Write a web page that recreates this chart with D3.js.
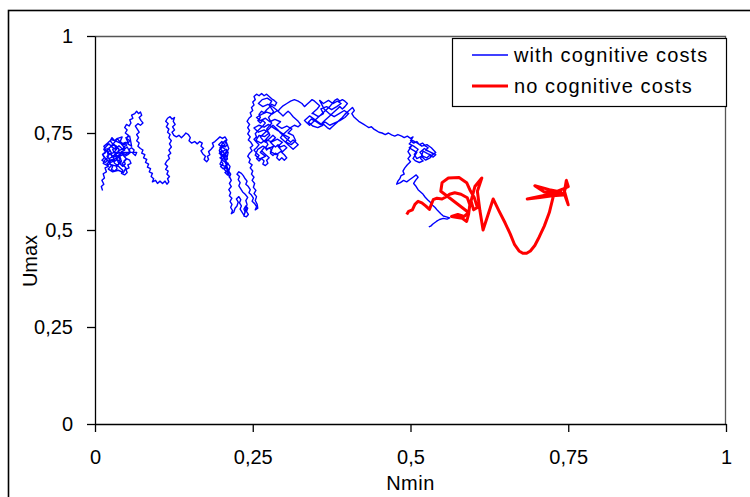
<!DOCTYPE html>
<html>
<head>
<meta charset="utf-8">
<script src="https://cdn.jsdelivr.net/npm/d3@7"></script>
<style>
  body { margin: 0; background: #fff; }
  svg text { font-family: "Liberation Sans", Arial, sans-serif; fill: #000; }
</style>
</head>
<body>
<svg id="chart" width="750" height="497"></svg>
<script>
// tick values (labels use a decimal comma)
const xTicks = [0, 0.25, 0.5, 0.75, 1];
const yTicks = [0, 0.25, 0.5, 0.75, 1];
const seriesNames = ['with cognitive costs', 'no cognitive costs'];

// with cognitive costs: [Nmin, Umax]
const withCosts = [
  // left blob
  [0.012,0.602],[0.010,0.612],[0.014,0.618],[0.011,0.628],[0.015,0.634],[0.013,0.645],[0.018,0.650],
  [0.016,0.660],[0.021,0.664],[0.019,0.672],[0.024,0.676],[0.022,0.684],[0.027,0.688],[0.025,0.696],
  [0.030,0.700],[0.028,0.708],[0.033,0.712],[0.031,0.720],[0.026,0.716],[0.022,0.722],[0.018,0.716],
  [0.014,0.708],[0.017,0.700],[0.012,0.694],[0.015,0.686],[0.011,0.680],[0.016,0.674],[0.020,0.680],
  [0.024,0.670],[0.028,0.664],[0.026,0.656],[0.031,0.652],[0.035,0.658],[0.033,0.666],[0.038,0.670],
  [0.036,0.678],[0.041,0.682],[0.039,0.690],[0.044,0.694],[0.042,0.702],[0.047,0.706],[0.045,0.714],
  [0.050,0.718],[0.048,0.726],[0.043,0.722],[0.039,0.728],[0.035,0.736],[0.031,0.730],[0.027,0.738],
  [0.024,0.730],[0.028,0.722],[0.034,0.716],[0.038,0.708],[0.036,0.700],[0.032,0.694],[0.034,0.686],
  [0.029,0.680],[0.031,0.672],[0.036,0.666],[0.040,0.660],[0.044,0.654],[0.042,0.646],[0.047,0.642],
  [0.051,0.648],[0.049,0.656],[0.054,0.660],[0.052,0.668],[0.057,0.672],[0.055,0.680],[0.050,0.684],
  [0.046,0.678],[0.048,0.670],[0.044,0.664],[0.040,0.670],[0.042,0.678],[0.038,0.686],[0.034,0.692],
  [0.030,0.688],[0.026,0.694],[0.021,0.698],[0.023,0.706],[0.019,0.710],[0.021,0.690],[0.018,0.682],
  [0.022,0.676],[0.026,0.680],[0.030,0.676],[0.034,0.680],[0.038,0.694],[0.043,0.698],[0.047,0.690],
  [0.052,0.694],[0.056,0.700],[0.054,0.708],[0.058,0.712],[0.062,0.706],[0.060,0.698],[0.064,0.692],
  [0.066,0.700],
  [0.030,0.700],[0.036,0.712],[0.029,0.719],[0.022,0.711],[0.026,0.698],[0.019,0.690],[0.024,0.680],
  [0.033,0.684],[0.040,0.676],[0.035,0.664],[0.027,0.668],[0.021,0.657],[0.028,0.650],[0.037,0.654],
  [0.045,0.648],[0.049,0.660],[0.043,0.671],[0.050,0.683],[0.044,0.694],[0.037,0.690],[0.031,0.696],
  [0.039,0.705],[0.047,0.712],[0.041,0.723],[0.033,0.729],[0.026,0.733],[0.020,0.724],[0.014,0.716],
  [0.018,0.703],[0.012,0.695],[0.017,0.684],[0.013,0.672],[0.020,0.666],[0.025,0.674],[0.031,0.679],
  [0.028,0.690],[0.034,0.697],[0.042,0.700],[0.048,0.695],[0.055,0.702],[0.051,0.714],[0.045,0.706],
  [0.038,0.717],[0.032,0.708],[0.025,0.716],[0.030,0.724],[0.036,0.736],[0.043,0.740],[0.040,0.728],
  [0.046,0.720],[0.052,0.727],[0.049,0.738],[0.055,0.742],
  [0.058,0.716],[0.052,0.722],[0.055,0.730],[0.050,0.736],[0.053,0.744],[0.048,0.750],
  // first hump
  [0.051,0.758],[0.047,0.764],[0.050,0.772],[0.054,0.768],[0.057,0.776],[0.055,0.784],[0.060,0.788],
  [0.058,0.796],[0.063,0.800],[0.066,0.806],[0.069,0.800],[0.072,0.804],[0.074,0.796],[0.070,0.790],
  [0.073,0.782],[0.076,0.776],[0.072,0.770],[0.068,0.774],[0.064,0.768],[0.067,0.760],[0.070,0.752],
  [0.066,0.746],[0.069,0.738],[0.066,0.730],[0.070,0.724],[0.068,0.716],[0.072,0.710],[0.076,0.706],
  [0.074,0.698],[0.079,0.694],[0.077,0.686],[0.082,0.682],[0.080,0.674],[0.085,0.670],[0.083,0.662],
  [0.088,0.658],[0.086,0.650],[0.091,0.646],[0.089,0.638],[0.093,0.632],[0.091,0.624],[0.096,0.628],
  [0.099,0.620],[0.103,0.626],[0.107,0.620],[0.111,0.626],[0.114,0.618],[0.117,0.624],[0.115,0.632],
  [0.118,0.638],[0.114,0.644],[0.116,0.652],[0.112,0.656],[0.115,0.664],[0.111,0.670],[0.114,0.678],
  [0.118,0.684],[0.116,0.692],[0.120,0.698],[0.117,0.706],[0.121,0.714],[0.118,0.722],[0.121,0.730],
  [0.117,0.738],[0.119,0.746],[0.115,0.752],[0.117,0.760],[0.113,0.766],[0.116,0.774],[0.112,0.780],
  [0.115,0.788],[0.119,0.792],[0.122,0.786],[0.126,0.790],[0.124,0.780],[0.127,0.772],[0.123,0.766],
  [0.126,0.758],[0.122,0.752],[0.125,0.744],[0.129,0.740],[0.133,0.744],[0.137,0.738],[0.141,0.744],
  [0.144,0.750],[0.148,0.746],[0.151,0.738],[0.149,0.730],[0.153,0.724],[0.158,0.728],[0.162,0.722],
  [0.166,0.728],[0.170,0.724],[0.168,0.716],[0.172,0.710],[0.168,0.704],[0.171,0.696],[0.175,0.690],
  [0.173,0.682],[0.177,0.676],[0.180,0.682],[0.178,0.690],[0.182,0.694],[0.180,0.702],[0.184,0.708],
  [0.188,0.716],[0.186,0.724],
  // blob near 0.2
  [0.190,0.728],[0.194,0.734],[0.198,0.740],[0.202,0.736],[0.206,0.740],[0.209,0.732],[0.206,0.726],
  [0.210,0.720],[0.206,0.714],[0.202,0.718],[0.198,0.712],[0.201,0.704],[0.197,0.698],[0.201,0.692],
  [0.205,0.696],[0.208,0.690],[0.204,0.684],[0.200,0.678],[0.203,0.670],[0.199,0.664],[0.203,0.658],
  [0.207,0.662],[0.210,0.654],[0.206,0.648],[0.210,0.642],[0.213,0.648],[0.211,0.656],[0.208,0.668],
  [0.206,0.676],[0.209,0.684],[0.211,0.700],[0.208,0.708],[0.204,0.704],[0.200,0.698],[0.203,0.690],
  [0.206,0.680],[0.210,0.672],[0.214,0.664],[0.212,0.652],[0.215,0.644],[0.213,0.636],
  [0.204,0.700],[0.199,0.709],[0.206,0.719],[0.201,0.728],[0.196,0.720],[0.203,0.712],[0.209,0.705],
  [0.204,0.692],[0.198,0.686],[0.205,0.676],[0.210,0.683],[0.207,0.695],[0.212,0.710],[0.207,0.731],
  [0.202,0.724],[0.197,0.705],[0.202,0.682],[0.198,0.670],[0.206,0.664],[0.211,0.672],[0.205,0.656],
  [0.210,0.648],[0.216,0.628],
  // dip
  [0.213,0.620],[0.216,0.612],[0.212,0.604],[0.215,0.596],[0.213,0.588],[0.217,0.582],[0.214,0.574],
  [0.217,0.566],[0.215,0.558],[0.218,0.550],[0.216,0.542],[0.220,0.546],[0.222,0.556],[0.225,0.562],
  [0.227,0.572],[0.224,0.580],[0.228,0.586],[0.231,0.578],[0.229,0.570],[0.232,0.562],[0.230,0.554],
  [0.233,0.546],[0.236,0.538],[0.238,0.546],[0.236,0.554],[0.239,0.562],[0.242,0.556],[0.240,0.548],
  [0.243,0.540],[0.240,0.534],[0.236,0.536],[0.241,0.566],[0.239,0.576],[0.242,0.584],[0.238,0.592],
  [0.234,0.598],[0.231,0.606],[0.228,0.614],[0.230,0.622],[0.227,0.630],[0.229,0.638],[0.225,0.644],
  [0.228,0.650],[0.232,0.646],[0.235,0.640],[0.238,0.632],[0.241,0.626],[0.239,0.618],[0.243,0.612],
  [0.246,0.604],[0.244,0.596],[0.248,0.590],[0.251,0.582],[0.249,0.574],[0.253,0.568],[0.256,0.560],
  [0.254,0.552],[0.258,0.556],[0.257,0.566],[0.254,0.576],[0.256,0.586],[0.252,0.594],[0.255,0.602],
  [0.251,0.610],[0.253,0.620],[0.249,0.628],[0.252,0.636],[0.248,0.644],[0.250,0.652],[0.246,0.660],
  [0.249,0.668],[0.244,0.674],[0.246,0.682],[0.242,0.690],[0.245,0.698],[0.249,0.704],
  // main blob and peak
  [0.246,0.712],[0.250,0.718],[0.247,0.726],[0.243,0.732],[0.246,0.740],[0.242,0.748],[0.245,0.756],
  [0.242,0.764],[0.245,0.772],[0.241,0.780],[0.244,0.788],[0.248,0.794],[0.246,0.802],[0.250,0.808],
  [0.248,0.816],[0.252,0.822],[0.250,0.830],[0.254,0.836],[0.252,0.844],[0.256,0.850],[0.260,0.846],
  [0.264,0.852],[0.268,0.846],[0.272,0.850],[0.276,0.844],[0.280,0.838],[0.284,0.834],[0.288,0.828],
  [0.285,0.820],[0.280,0.824],[0.276,0.816],[0.272,0.810],[0.268,0.802],[0.264,0.806],[0.260,0.798],
  [0.262,0.790],[0.258,0.782],[0.262,0.776],[0.266,0.782],[0.270,0.776],[0.266,0.768],[0.262,0.762],
  [0.258,0.756],[0.254,0.748],[0.256,0.740],[0.252,0.734],[0.256,0.726],[0.260,0.720],[0.256,0.712],
  [0.252,0.706],[0.256,0.698],[0.260,0.692],[0.256,0.684],[0.260,0.678],[0.264,0.684],[0.268,0.678],
  [0.266,0.670],[0.270,0.666],[0.274,0.672],[0.272,0.680],[0.276,0.686],[0.272,0.692],[0.268,0.698],
  [0.264,0.704],[0.268,0.712],
  [0.262,0.700],[0.270,0.690],[0.261,0.683],[0.254,0.693],[0.258,0.708],[0.266,0.716],[0.274,0.709],
  [0.283,0.716],[0.278,0.702],[0.287,0.694],[0.296,0.704],[0.290,0.716],[0.297,0.726],[0.289,0.734],
  [0.280,0.727],[0.271,0.733],[0.263,0.724],[0.255,0.731],[0.260,0.744],[0.269,0.741],[0.276,0.750],
  [0.268,0.758],[0.259,0.752],[0.252,0.763],[0.260,0.770],[0.268,0.765],[0.275,0.772],[0.284,0.762],
  [0.292,0.754],[0.300,0.745],[0.308,0.738],[0.302,0.727],[0.311,0.720],[0.318,0.730],[0.314,0.744],
  [0.306,0.750],[0.312,0.760],[0.304,0.768],[0.296,0.762],[0.288,0.770],[0.294,0.779],[0.285,0.785],
  [0.277,0.779],[0.270,0.788],[0.262,0.782],[0.256,0.790],[0.264,0.798],[0.272,0.804],[0.281,0.799],
  [0.289,0.808],[0.282,0.817],[0.274,0.824],[0.266,0.818],[0.259,0.826],[0.265,0.836],[0.273,0.840],
  [0.280,0.832],[0.276,0.822],[0.283,0.805],[0.275,0.790],[0.280,0.775],[0.272,0.760],[0.277,0.745],
  [0.270,0.732],[0.274,0.720],[0.270,0.712],
  [0.272,0.706],[0.276,0.712],[0.280,0.706],[0.278,0.698],[0.282,0.692],
  [0.286,0.698],[0.290,0.694],[0.288,0.686],[0.292,0.680],[0.296,0.686],[0.300,0.680],[0.304,0.686],
  [0.300,0.694],[0.296,0.700],[0.300,0.706],[0.304,0.712],[0.300,0.718],[0.294,0.714],[0.290,0.720],
  [0.286,0.714],[0.282,0.720],[0.278,0.726],[0.282,0.732],[0.286,0.738],[0.282,0.744],[0.278,0.738],
  [0.274,0.732],[0.270,0.726],[0.266,0.732],[0.262,0.740],[0.266,0.746],[0.270,0.752],[0.274,0.758],
  [0.278,0.764],[0.282,0.770],[0.286,0.764],[0.290,0.758],[0.294,0.750],[0.298,0.744],[0.302,0.738],
  [0.306,0.732],[0.310,0.726],[0.314,0.732],[0.318,0.726],[0.322,0.720],[0.318,0.714],[0.314,0.708],
  [0.310,0.714],[0.306,0.720],[0.302,0.726],[0.298,0.732],[0.294,0.738],[0.298,0.746],[0.302,0.752],
  [0.306,0.758],[0.310,0.764],[0.316,0.770],[0.322,0.766],[0.326,0.772],[0.322,0.780],[0.318,0.786],
  [0.314,0.792],[0.310,0.800],[0.306,0.806],[0.302,0.800],[0.298,0.794],[0.294,0.800],[0.290,0.806],
  [0.294,0.814],[0.298,0.820],[0.304,0.826],[0.310,0.832],[0.316,0.836],[0.322,0.832],[0.328,0.826],
  [0.332,0.818],[0.336,0.824],[0.340,0.830],[0.344,0.836],[0.348,0.832],[0.352,0.826],[0.356,0.820],
  [0.352,0.812],[0.348,0.806],[0.344,0.800],
  [0.346,0.800],[0.354,0.792],[0.362,0.800],[0.358,0.812],[0.367,0.818],[0.375,0.810],[0.383,0.818],
  [0.390,0.826],[0.384,0.832],[0.377,0.826],[0.370,0.834],[0.362,0.826],[0.356,0.834],[0.363,0.812],
  [0.371,0.800],[0.379,0.792],[0.387,0.800],[0.395,0.808],[0.402,0.800],[0.396,0.790],[0.388,0.782],
  [0.380,0.776],[0.372,0.770],[0.365,0.778],[0.357,0.772],[0.350,0.780],[0.343,0.786],[0.338,0.778],
  [0.345,0.768],[0.353,0.764],[0.361,0.770],
  [0.340,0.794],[0.336,0.788],[0.332,0.782],[0.336,0.776],
  [0.340,0.770],[0.344,0.776],[0.348,0.782],[0.352,0.788],[0.356,0.794],[0.360,0.800],[0.364,0.806],
  [0.368,0.812],[0.372,0.818],[0.376,0.826],[0.380,0.834],[0.384,0.838],[0.388,0.832],[0.392,0.836],
  [0.396,0.832],[0.400,0.826],[0.396,0.818],[0.392,0.812],[0.388,0.818],[0.384,0.812],[0.380,0.806],
  [0.376,0.800],[0.372,0.794],[0.368,0.788],[0.364,0.782],[0.360,0.776],[0.364,0.770],[0.368,0.764],
  [0.372,0.760],[0.376,0.766],[0.380,0.772],[0.384,0.778],[0.388,0.784],[0.392,0.790],[0.396,0.798],
  [0.400,0.804],[0.404,0.810],[0.408,0.816],[0.411,0.808],[0.407,0.800],[0.410,0.792],[0.414,0.786],
  // drift to the right
  [0.418,0.780],[0.422,0.776],[0.426,0.772],[0.430,0.768],[0.434,0.764],[0.438,0.766],[0.442,0.760],
  [0.446,0.756],[0.450,0.752],[0.455,0.750],[0.460,0.746],[0.465,0.750],[0.470,0.745],[0.475,0.742],
  [0.480,0.746],[0.486,0.742],[0.490,0.738],[0.495,0.742],[0.500,0.736],[0.504,0.740],[0.500,0.730],
  [0.505,0.724],[0.510,0.728],[0.514,0.720],[0.519,0.724],[0.524,0.716],[0.528,0.712],[0.524,0.706],
  [0.530,0.702],[0.535,0.698],[0.540,0.694],[0.536,0.688],[0.530,0.692],[0.526,0.686],[0.520,0.690],
  [0.515,0.700],[0.522,0.710],[0.529,0.703],[0.536,0.696],[0.531,0.686],[0.524,0.680],[0.517,0.690],
  [0.510,0.684],[0.506,0.695],[0.512,0.708],[0.505,0.716],[0.498,0.722],[0.503,0.731],[0.511,0.724],
  [0.518,0.716],[0.526,0.720],[0.533,0.712],[0.540,0.700],[0.534,0.692],[0.527,0.697],[0.520,0.703],
  [0.516,0.684],[0.520,0.678],[0.514,0.674],[0.508,0.678],[0.504,0.684],[0.510,0.700],[0.504,0.706],
  [0.498,0.712],[0.502,0.718],[0.496,0.702],[0.500,0.692],[0.496,0.684],[0.500,0.676],[0.495,0.668],
  [0.491,0.660],[0.488,0.652],[0.490,0.644],[0.485,0.640],[0.483,0.632],[0.480,0.626],[0.478,0.618],
  [0.484,0.622],[0.489,0.628],[0.494,0.624],[0.499,0.630],[0.504,0.636],[0.509,0.642],[0.512,0.636],
  [0.508,0.628],[0.505,0.620],[0.509,0.612],[0.512,0.604],[0.516,0.598],[0.520,0.592],[0.523,0.585],
  [0.527,0.578],[0.531,0.572],[0.535,0.564],[0.539,0.558],[0.543,0.550],[0.548,0.542],[0.552,0.536],
  [0.557,0.534],[0.562,0.531],[0.558,0.528],[0.552,0.530],[0.546,0.527],[0.541,0.522],[0.536,0.516],
  [0.532,0.510],[0.529,0.508]
];

// no cognitive costs: [Nmin, Umax]
const noCosts = [
  [0.494,0.540],[0.497,0.548],[0.503,0.552],[0.507,0.566],[0.512,0.574],[0.518,0.570],
  [0.524,0.562],[0.530,0.553],[0.533,0.566],[0.536,0.578],[0.542,0.582],[0.550,0.580],
  [0.556,0.585],[0.562,0.592],[0.570,0.596],[0.580,0.592],[0.590,0.583],[0.594,0.565],
  [0.592,0.540],[0.589,0.522],[0.582,0.530],[0.572,0.533],[0.565,0.535],[0.575,0.540],
  [0.585,0.535],[0.592,0.545],[0.560,0.585],[0.548,0.600],[0.550,0.622],[0.560,0.634],
  [0.577,0.635],[0.589,0.622],[0.594,0.604],[0.601,0.584],[0.606,0.558],[0.600,0.552],
  [0.596,0.575],[0.602,0.612],[0.613,0.634],[0.606,0.600],[0.610,0.550],[0.615,0.500],
  [0.623,0.540],[0.631,0.580],[0.640,0.550],[0.650,0.518],[0.658,0.490],[0.665,0.462],
  [0.672,0.446],[0.678,0.440],[0.684,0.440],[0.690,0.446],[0.697,0.460],[0.704,0.482],
  [0.712,0.510],[0.720,0.545],[0.726,0.585],[0.733,0.600],[0.742,0.606],[0.750,0.612],
  [0.747,0.628],[0.744,0.600],[0.750,0.565],[0.744,0.592],[0.730,0.600],[0.712,0.598],
  [0.697,0.614],[0.720,0.604],[0.738,0.598],[0.685,0.580],[0.705,0.584],[0.725,0.588],
  [0.742,0.590],[0.748,0.620],[0.744,0.604]
];

const svg = d3.select('#chart');
const margin = { left: 95, top: 36, right: 24, bottom: 73 };
const width = +svg.attr('width');
const height = +svg.attr('height');
const innerWidth = width - margin.left - margin.right;
const innerHeight = height - margin.top - margin.bottom;
const fmt = d => String(d).replace('.', ',');

// outer chart frame (runs off the right and bottom edge)
svg.append('rect')
  .attr('x', 8.5).attr('y', 10.5)
  .attr('width', 800).attr('height', 600)
  .attr('fill', 'none')
  .attr('stroke', '#000')
  .attr('stroke-width', 1.6);

const g = svg.append('g')
  .attr('transform', `translate(${margin.left},${margin.top})`);

const xScale = d3.scaleLinear().domain([0, 1]).range([0, innerWidth]);
const yScale = d3.scaleLinear().domain([0, 1]).range([innerHeight, 0]);

// plot area border (top / right)
g.append('path')
  .attr('d', `M0,0.5H${innerWidth - 0.5}V${innerHeight}`)
  .attr('fill', 'none')
  .attr('stroke', '#555')
  .attr('stroke-width', 1.3);

const xAxis = d3.axisBottom(xScale)
  .tickValues(xTicks)
  .tickFormat(fmt)
  .tickSizeInner(8).tickSizeOuter(0)
  .tickPadding(18);

const yAxis = d3.axisLeft(yScale)
  .tickValues(yTicks)
  .tickFormat(fmt)
  .tickSizeInner(8).tickSizeOuter(0)
  .tickPadding(14);

const xAxisG = g.append('g')
  .attr('transform', `translate(0,${innerHeight})`)
  .call(xAxis);
const yAxisG = g.append('g').call(yAxis);

[xAxisG, yAxisG].forEach(a => {
  a.selectAll('.domain').attr('stroke', '#000').attr('stroke-width', 1.3);
  a.selectAll('.tick line').attr('stroke', '#000').attr('stroke-width', 1.3);
  a.selectAll('.tick text')
    .attr('font-size', 20)
    .attr('font-family', '"Liberation Sans", Arial, sans-serif')
    .attr('fill', '#000');
});

// axis titles
g.append('text')
  .attr('x', innerWidth / 2)
  .attr('y', innerHeight + 66)
  .attr('text-anchor', 'middle')
  .attr('font-size', 20)
  .attr('letter-spacing', 0.5)
  .text('Nmin');

g.append('text')
  .attr('transform', 'rotate(-90)')
  .attr('x', -innerHeight / 2 - 31)
  .attr('y', -58)
  .attr('text-anchor', 'middle')
  .attr('font-size', 20)
  .text('Umax');

// series
const line = d3.line()
  .x(d => xScale(d[0]))
  .y(d => yScale(d[1]));

g.append('path')
  .datum(withCosts)
  .attr('d', line)
  .attr('fill', 'none')
  .attr('stroke', '#0000ff')
  .attr('stroke-width', 1.4)
  .attr('stroke-linejoin', 'round');

g.append('path')
  .datum(noCosts)
  .attr('d', line)
  .attr('fill', 'none')
  .attr('stroke', '#ff0000')
  .attr('stroke-width', 3)
  .attr('stroke-linejoin', 'round');

// legend
const legend = g.append('g')
  .attr('transform', `translate(${357.5},${2.5})`);

legend.append('rect')
  .attr('width', 274).attr('height', 68)
  .attr('fill', '#fff')
  .attr('stroke', '#000')
  .attr('stroke-width', 1.2);

const legendItems = legend.selectAll('.item')
  .data(seriesNames)
  .enter().append('g')
    .attr('class', 'item')
    .attr('transform', (d, i) => `translate(0,${16.5 + i * 31})`);

legendItems.append('line')
  .attr('x1', 19.5).attr('x2', 55.5)
  .attr('stroke', (d, i) => i === 0 ? '#0000ff' : '#ff0000')
  .attr('stroke-width', (d, i) => i === 0 ? 1.3 : 3);

legendItems.append('text')
  .attr('x', 61.5)
  .attr('y', 7)
  .attr('font-size', 20)
  .attr('letter-spacing', 1.1)
  .text(d => d);
</script>
</body>
</html>
